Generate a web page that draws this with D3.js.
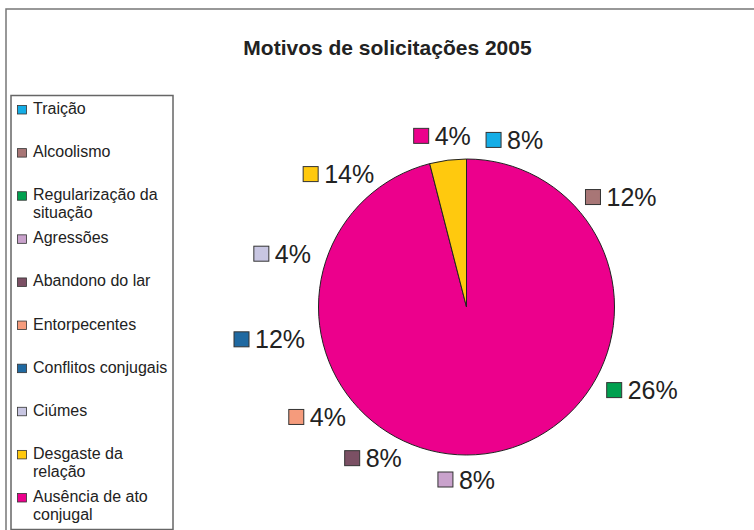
<!DOCTYPE html>
<html>
<head>
<meta charset="utf-8">
<script src="https://cdn.jsdelivr.net/npm/d3@7"></script>
<style>
  body { margin: 0; background: #fff; }
  svg { display: block; font-family: "Liberation Sans", Arial, sans-serif; }
</style>
</head>
<body>
<svg id="chart"></svg>
<script>
// dados
var categorias = ["Traição", "Alcoolismo", "Regularização da situação", "Agressões", "Abandono do lar",
  "Entorpecentes", "Conflitos conjugais", "Ciúmes", "Desgaste da relação", "Ausência de ato conjugal"];
var valores = [8, 12, 26, 8, 8, 4, 12, 4, 14, 4];
// linhas da legenda (quebra igual ao original)
var legendaLinhas = [["Traição"], ["Alcoolismo"], ["Regularização da", "situação"], ["Agressões"], ["Abandono do lar"],
  ["Entorpecentes"], ["Conflitos conjugais"], ["Ciúmes"], ["Desgaste da", "relação"], ["Ausência de ato", "conjugal"]];
var titulo = "Motivos de solicitações 2005";

var cores = ["#14ade6", "#a87676", "#00a04f", "#c9a2cc", "#7b5064",
  "#f59b7c", "#1f69a1", "#c8c6e2", "#ffc90e", "#ec008c"];

var width = 754, height = 530;
var cx = 466.5, cy = 307, raio = 148;

var svg = d3.select("#chart")
  .attr("width", width)
  .attr("height", height)
  .attr("viewBox", [0, 0, width, height]);

// moldura (só topo e esquerda aparecem)
svg.append("path")
  .attr("d", "M6," + height + "V9H" + width)
  .attr("fill", "none")
  .attr("stroke", "#777")
  .attr("stroke-width", 1.5);

// titulo
svg.append("text")
  .attr("x", 387.5)
  .attr("y", 55)
  .attr("text-anchor", "middle")
  .attr("font-size", "21px")
  .attr("font-weight", "bold")
  .attr("fill", "#222")
  .text(titulo);

// legenda
svg.append("rect")
  .attr("x", 11).attr("y", 95.5)
  .attr("width", 162).attr("height", 434)
  .attr("fill", "#fff")
  .attr("stroke", "#666")
  .attr("stroke-width", 1.5);

var yLeg = d3.scalePoint().domain(categorias).range([114, 502]);
var leg = svg.append("g").selectAll("g")
  .data(categorias)
  .enter()
  .append("g")
  .attr("transform", function(d) { return "translate(0," + yLeg(d) + ")"; });
leg.append("rect")
  .attr("x", 17.5).attr("y", -8.5)
  .attr("width", 9).attr("height", 8.5)
  .attr("fill", function(d, i) { return cores[i]; })
  .attr("stroke", "#333")
  .attr("stroke-width", 0.8);
leg.append("text")
  .attr("font-size", "16px")
  .attr("fill", "#222")
  .selectAll("tspan")
  .data(function(d, i) { return legendaLinhas[i]; })
  .enter()
  .append("tspan")
  .attr("x", 33)
  .attr("y", function(d, j) { return j * 18; })
  .text(function(d) { return d; });

// pizza
var pie = d3.pie().sort(null).value(function(d) { return d; });
var arcos = pie(valores);
var arc = d3.arc().innerRadius(0).outerRadius(raio);

// no original as fatias saem todas na cor de "Ausência", só a última em amarelo
var n = arcos.length;
var fatias = [
  { startAngle: arcos[0].startAngle, endAngle: arcos[n - 2].endAngle, cor: cores[n - 1] },
  { startAngle: arcos[n - 1].startAngle, endAngle: arcos[n - 1].endAngle, cor: cores[n - 2] }
];
var gPie = svg.append("g").attr("transform", "translate(" + cx + "," + cy + ")");
gPie.selectAll("path")
  .data(fatias)
  .enter()
  .append("path")
  .attr("d", arc)
  .attr("fill", function(d) { return d.cor; })
  .attr("stroke", "#222")
  .attr("stroke-width", 1);

// rotulos de porcentagem
var dist = raio + 17;
var rot = gPie.append("g").selectAll("g")
  .data(arcos)
  .enter()
  .append("g");
rot.append("text")
  .attr("font-size", "25px")
  .attr("fill", "#222")
  .attr("x", 21)
  .attr("y", 9)
  .text(function(d) { return d.data + "%"; });
rot.append("rect")
  .attr("x", 0).attr("y", -7.5)
  .attr("width", 15).attr("height", 15)
  .attr("fill", function(d, i) { return cores[i]; })
  .attr("stroke", "#333")
  .attr("stroke-width", 1);
rot.attr("transform", function(d) {
  var a = (d.startAngle + d.endAngle) / 2;
  var w = 21 + d3.select(this).select("text").node().getComputedTextLength();
  var px = dist * Math.sin(a) + (w / 2) * Math.sin(a);
  var py = -dist * Math.cos(a) - 7.5 * Math.cos(a);
  return "translate(" + (px - w / 2) + "," + py + ")";
});
</script>
</body>
</html>
